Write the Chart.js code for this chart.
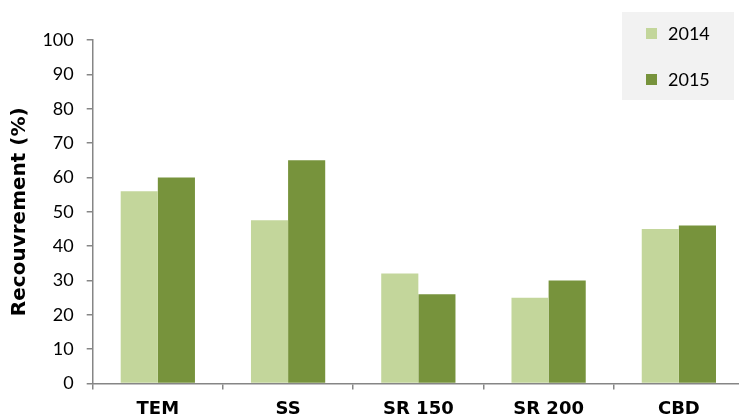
<!DOCTYPE html>
<html>
<head>
<meta charset="utf-8">
<script src="https://cdn.jsdelivr.net/npm/chart.js@4.4.1/dist/chart.umd.min.js"></script>
<style>
  html, body { margin: 0; padding: 0; background: #fff; overflow: hidden; }
  #wrap { width: 746px; height: 417px; }
</style>
</head>
<body>
<div id="wrap"><canvas id="myChart" width="746" height="417"></canvas></div>
<script>
// data
let categories = ['TEM', 'SS', 'SR 150', 'SR 200', 'CBD'];
let values2014 = [56, 47.5, 32, 25, 45];
let values2015 = [60, 65, 26, 30, 46];
let yTicks = [0, 10, 20, 30, 40, 50, 60, 70, 80, 90, 100];

let axisGrey = '#868686';
let fontFamily = 'Lato, "DejaVu Sans", sans-serif';
let boldFamily = '"DejaVu Sans", sans-serif';

// legend drawn in a grey box at the top right
let boxLegend = {
  id: 'boxLegend',
  afterDraw(chart) {
    let c = chart.ctx;
    c.save();
    c.fillStyle = '#f2f2f2';
    c.fillRect(622, 12, 112, 88);
    c.font = '18px ' + fontFamily;
    c.textBaseline = 'middle';
    chart.data.datasets.forEach((ds, i) => {
      let y = 33 + i * 46;
      c.fillStyle = ds.backgroundColor;
      c.fillRect(646, y - 5, 11, 11);
      c.fillStyle = '#000';
      c.fillText(ds.label, 668, y + 1);
    });
    c.restore();
  }
};

let ctx = document.getElementById('myChart').getContext('2d');

let chart = new Chart(ctx, {
  type: 'bar',
  data: {
    labels: categories,
    datasets: [{
      label: '2014',
      data: values2014,
      backgroundColor: '#c3d69b',
      categoryPercentage: 0.57,
      barPercentage: 1.0
    }, {
      label: '2015',
      data: values2015,
      backgroundColor: '#77933c',
      categoryPercentage: 0.57,
      barPercentage: 1.0
    }]
  },
  options: {
    responsive: false,
    animation: false,
    layout: { padding: { top: 40, right: 2, left: 0, bottom: 0 } },
    plugins: {
      legend: { display: false },
      tooltip: { enabled: false }
    },
    scales: {
      x: {
        grid: {
          offset: true,
          drawOnChartArea: false,
          drawTicks: true,
          tickLength: 6,
          color: axisGrey,
          lineWidth: 1.5
        },
        border: { color: axisGrey, width: 1.5 },
        ticks: {
          color: '#000',
          padding: 9,
          font: { family: boldFamily, size: 18, weight: 'bold' }
        },
        afterFit(scale) { scale.height = 33.5; }
      },
      y: {
        min: 0,
        max: 100,
        afterBuildTicks(scale) { scale.ticks = yTicks.map(v => ({ value: v })); },
        grid: {
          drawOnChartArea: false,
          drawTicks: true,
          tickLength: 6,
          color: axisGrey,
          lineWidth: 1.5
        },
        border: { color: axisGrey, width: 1.5 },
        ticks: {
          color: '#000',
          padding: 13,
          font: { family: fontFamily, size: 18 }
        },
        title: {
          display: true,
          text: 'Recouvrement (%)',
          color: '#000',
          padding: { top: 8, bottom: 0 },
          font: { family: boldFamily, size: 20, weight: 'bold' }
        },
        afterFit(scale) { scale.width = 92.7; }
      }
    }
  },
  plugins: [boxLegend]
});
</script>
</body>
</html>
